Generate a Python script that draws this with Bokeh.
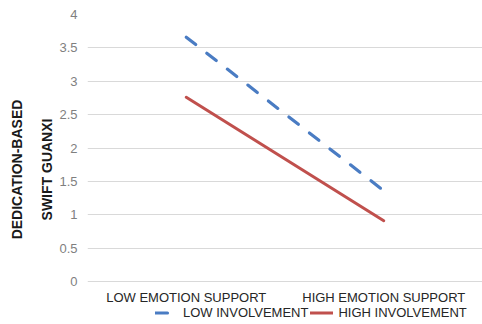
from bokeh.plotting import figure
from bokeh.models import Range1d, FactorRange, Legend, LegendItem, FixedTicker
from bokeh.core.properties import value
from bokeh.embed import file_html
from bokeh.resources import INLINE

categories = ["LOW EMOTION SUPPORT", "HIGH EMOTION SUPPORT"]
low_involvement = [3.66, 1.36]
high_involvement = [2.76, 0.91]
y_ticks = [0, 0.5, 1, 1.5, 2, 2.5, 3, 3.5, 4]

FONT = "Liberation Sans"

# The frame runs to the bottom of the canvas so the category labels and the
# legend can sit underneath the zero line; only 0..4 carries ticks and grid.
p = figure(
    width=482, height=324,
    x_range=FactorRange(*categories, range_padding=0),
    y_range=Range1d(-0.644, 4),
    output_backend="svg", toolbar_location=None,
    min_border_left=87, min_border_right=0, min_border_top=14,
    min_border_bottom=0,
)
p.outline_line_color = None
p.background_fill_color = "white"
p.border_fill_color = "white"

# grid
p.xgrid.grid_line_color = None
p.ygrid.grid_line_color = "#d9d9d9"
p.ygrid.grid_line_width = 1
p.yaxis.ticker = FixedTicker(ticks=y_ticks)

# y axis
p.yaxis.axis_line_color = None
p.yaxis.major_tick_line_color = None
p.yaxis.minor_tick_line_color = None
p.yaxis.major_tick_out = 0
p.yaxis.major_tick_in = 0
p.yaxis.major_label_text_font = FONT
p.yaxis.major_label_text_font_size = "13px"
p.yaxis.major_label_text_color = "#7f7f7f"
p.yaxis.major_label_standoff = 10
p.yaxis.axis_label = "DEDICATION-BASED\nSWIFT GUANXI"
p.yaxis.axis_label_text_font = FONT
p.yaxis.axis_label_text_font_style = "bold"
p.yaxis.axis_label_text_font_size = "14px"
p.yaxis.axis_label_text_color = "#1a1a1a"
p.yaxis.axis_label_text_line_height = 1.9
p.yaxis.axis_label_standoff = 1

# category labels drawn under the zero line
p.xaxis.visible = False
p.text(x=categories, y=[0, 0], text=categories,
       text_font=value(FONT), text_font_size="13px", text_color="#262626",
       text_align="center", text_baseline="middle", y_offset=16)

r_low = p.line(categories, low_involvement, line_color="#4a7cc3", line_width=3.2,
               line_dash="12 14", line_cap="round")
r_high = p.line(categories, high_involvement, line_color="#c0504d", line_width=3,
                line_cap="round")

# horizontal legend along the bottom edge
legend = Legend(
    items=[LegendItem(label="LOW INVOLVEMENT", renderers=[r_low]),
           LegendItem(label="HIGH INVOLVEMENT", renderers=[r_high])],
    orientation="horizontal", location=(68, 4),
    label_text_font=FONT, label_text_font_size="13px", label_text_color="#262626",
    glyph_width=23, label_standoff=5, spacing=2,
    padding=0, margin=0, border_line_color=None, background_fill_alpha=0,
    label_height=13, glyph_height=13,
)
p.add_layout(legend)

open("out.html", "w").write(file_html(p, INLINE))
